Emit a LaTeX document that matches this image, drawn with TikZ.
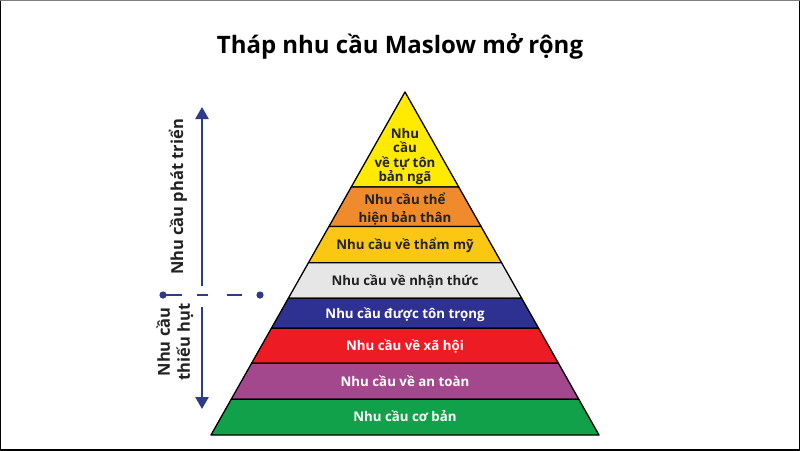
\documentclass[tikz,border=0pt]{standalone}
\usepackage{fontspec}
\setmainfont{Open Sans}
\usetikzlibrary{arrows.meta}
\definecolor{egoyellow}{HTML}{FFEA00}
\definecolor{selforange}{HTML}{EF8A2D}
\definecolor{aestgold}{HTML}{FBC712}
\definecolor{cogngray}{HTML}{E6E6E6}
\definecolor{esteemblue}{HTML}{2E3192}
\definecolor{socialred}{HTML}{ED1C24}
\definecolor{safepurple}{HTML}{A3488D}
\definecolor{basegreen}{HTML}{10A14A}
\definecolor{axisblue}{HTML}{2E3A8C}
\definecolor{labdark}{HTML}{222222}
\tikzset{
  band/.style={draw=black, line width=1.3pt, line join=round},
  lab/.style={font=\bfseries\fontsize{13.3}{14.4}\selectfont, align=center, inner sep=0pt},
  side/.style={font=\bfseries\fontsize{16.5}{20}\selectfont, rotate=90, align=center, inner sep=0pt, labdark},
  axis/.style={axisblue, line width=2.6pt, -{Triangle[length=12pt,width=13pt]}},
}
\begin{document}
\begin{tikzpicture}[x=1pt, y=-1pt]
  \useasboundingbox (0,0) rectangle (800,450);
  % frame
  \draw[black, line width=2pt] (0,450) -- (0,0) (800,0) -- (800,450) -- (0,450);
  \draw[gray, line width=1.2pt] (0,0) -- (800,0);
  % title
  \node[font=\bfseries\fontsize{24}{28}\selectfont, anchor=base, inner sep=0pt] (title) at (400,53) {Tháp nhu cầu Maslow mở rộng};
  % pyramid bands (top / bottom / colour)
  \coordinate (apex) at (405,92);
  \foreach \ya/\yb/\col [count=\i] in {92/187/egoyellow, 187/226.5/selforange, 226.5/262.7/aestgold,
      262.7/298.3/cogngray, 298.3/328.3/esteemblue, 328.3/363.3/socialred, 363.3/399.3/safepurple, 399.3/435/basegreen} {
    \filldraw[band, fill=\col] ({405-(\ya-92)*0.5656},\ya) -- ({405+(\ya-92)*0.5656},\ya)
      -- ({405+(\yb-92)*0.5656},\yb) -- ({405-(\yb-92)*0.5656},\yb) -- cycle;
    \coordinate (b\i) at (405,{(\ya+\yb)/2+4.7});
  }
  % band labels
  \node[lab, labdark] (ego) at (405,156.5) {Nhu\\cầu\\về tự tôn\\bản ngã};
  \node[lab, labdark, font=\bfseries\fontsize{13.3}{18}\selectfont] (self) at (405,209) {Nhu cầu thể\\hiện bản thân};
  \node[lab, labdark, anchor=base] (aest) at (b3) {Nhu cầu về thẩm mỹ};
  \node[lab, labdark, anchor=base] (cogn) at (b4) {Nhu cầu về nhận thức};
  \node[lab, white, anchor=base] (esteem) at (b5) {Nhu cầu được tôn trọng};
  \node[lab, white, anchor=base] (social) at (b6) {Nhu cầu về xã hội};
  \node[lab, white, anchor=base] (safe) at (b7) {Nhu cầu về an toàn};
  \node[lab, white, anchor=base] (basic) at (b8) {Nhu cầu cơ bản};
  % side axis
  \coordinate (upS) at (202,286); \coordinate (upE) at (202,107);
  \coordinate (dnS) at (202,307); \coordinate (dnE) at (202,409);
  \coordinate (dl) at (163,295); \coordinate (dr) at (260,295);
  \draw[axis] (upS) -- (upE);
  \draw[axis] (dnS) -- (dnE);
  \draw[axisblue, line width=2.6pt, dash pattern=on 19pt off 15pt on 11pt off 19pt on 15pt off 18pt] (dl) -- (dr);
  \fill[axisblue] (dl) circle (3.6pt) (dr) circle (3.6pt);
  \node[side] (grow) at (178,197) {Nhu cầu phát triển};
  \node[side] (lack) at (175,342) {Nhu cầu\\thiếu hụt};
\end{tikzpicture}
\end{document}
